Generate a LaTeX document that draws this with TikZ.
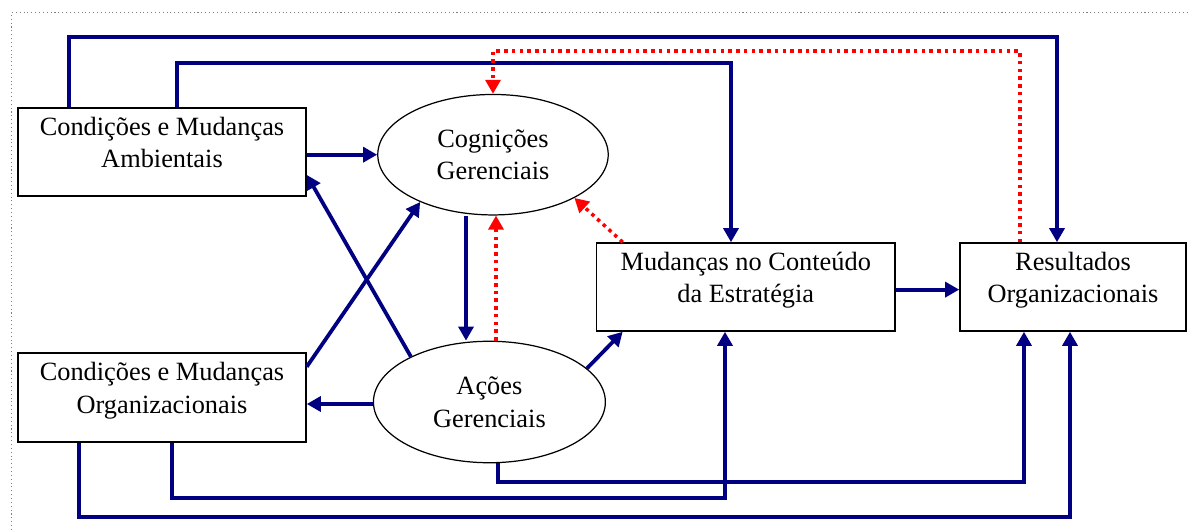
\documentclass[tikz,border=0pt]{standalone}
\usepackage{fontspec}
\setmainfont{Liberation Serif}
\usetikzlibrary{shapes.geometric,arrows.meta}

\definecolor{navyline}{HTML}{000080}
\tikzset{box/.style={draw,line width=0.9pt,inner sep=0pt,minimum height=1.76cm,align=center,text height=34pt,text depth=16pt}}
\tikzset{oval/.style={draw,ellipse,line width=0.7pt,inner sep=0pt,align=center}}
\tikzset{flow/.style={navyline,line width=2.15pt,-{Triangle[length=8pt,width=8.5pt]}}}
\tikzset{feedback/.style={red,line width=2pt,dash pattern=on 2pt off 2.4pt,-{Triangle[length=8pt,width=8.5pt]}}}
\tikzset{frame/.style={gray,line width=0.6pt,dash pattern=on 0.6pt off 1.6pt}}

\begin{document}
\begin{tikzpicture}[x=0.02cm,y=-0.02cm,font=\fontsize{15}{18.5}\selectfont]
        \useasboundingbox (0,0) rectangle (1188,530);
        % draw the frame
        \draw[frame] (11.5,530) -- (11.5,12.5) -- (1188,12.5);

        % draw the boxes and ovals
        \node[box,minimum width=5.76cm] (ambient) at (162,152) {Condições e Mudanças\\Ambientais};
        \node[box,minimum width=5.76cm,minimum height=1.78cm] (orgcond) at (162,397.5) {Condições e Mudanças\\Organizacionais};
        \node[box,minimum width=5.97cm] (strat) at (745.75,287) {Mudanças no Conteúdo\\da Estratégia};
        \node[box,minimum width=4.52cm] (result) at (1073,287) {Resultados\\Organizacionais};
        \node[oval,minimum width=4.61cm,minimum height=2.41cm] (cog) at (493,154.7) {Cognições\\Gerenciais};
        \node[oval,minimum width=4.64cm,minimum height=2.43cm] (act) at (489.4,402) {Ações\\Gerenciais};

        % direct links
        \draw[flow] (cog.west -| ambient.east) -- (cog.west);
        \draw[flow] (act.150) -- (ambient.-9);
        \draw[flow] (orgcond.12) -- (cog.213);
        \draw[flow] (cog.south -| 466,0) -- (act.north -| 466,0);
        \draw[flow] (act.west |- 0,404) -- (orgcond.east |- 0,404);
        \draw[flow] (act.19) -- (strat.200);
        \draw[flow] (strat.-1.4) -- (strat.-1.4 -| result.west);

        % links over the top
        \draw[flow] (ambient.north -| 69,0) |- (1057,37) -- (result.north -| 1057,0);
        \draw[flow] (ambient.north -| 177,0) |- (731,63) -- (strat.north -| 731,0);

        % links under the bottom
        \draw[flow] (act.south -| 498,0) |- (1024,482) -- (result.south -| 1024,0);
        \draw[flow] (orgcond.south -| 172,0) |- (725,498) -- (strat.south -| 725,0);
        \draw[flow] (orgcond.south -| 79,0) |- (1070,517) -- (result.south -| 1070,0);

        % feedback (dotted)
        \draw[feedback] (result.north -| 1020,0) |- (493,51) -- (cog.north);
        \draw[feedback] (act.north -| 496,0) -- (cog.south -| 496,0);
        \draw[feedback] (strat.160) -- (cog.-28);
\end{tikzpicture}
\end{document}
